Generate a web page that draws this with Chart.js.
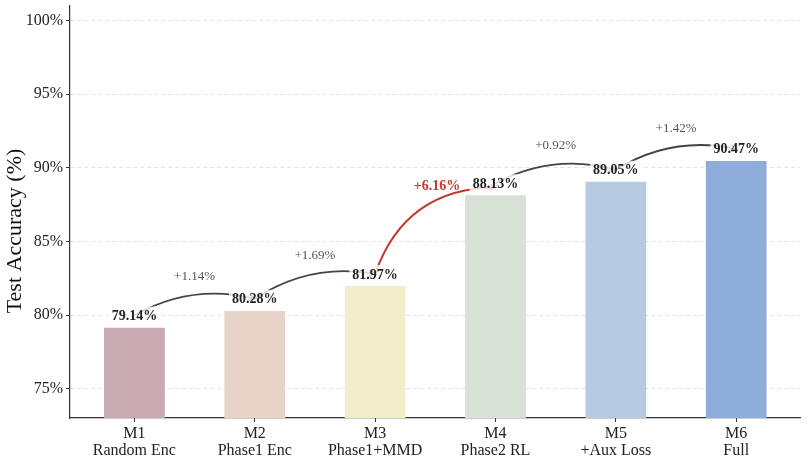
<!DOCTYPE html>
<html><head><meta charset="utf-8">
<script src="https://cdn.jsdelivr.net/npm/chart.js@4/dist/chart.umd.min.js"></script>
<style>html,body{margin:0;padding:0;background:#fff}#wrap{width:808px;height:461px}</style>
</head><body><div id="wrap"><canvas id="c" width="808" height="461"></canvas></div>
<script>
const categories = [["M1","Random Enc"],["M2","Phase1 Enc"],["M3","Phase1+MMD"],["M4","Phase2 RL"],["M5","+Aux Loss"],["M6","Full"]];
const accuracy = [79.14, 80.28, 81.97, 88.13, 89.05, 90.47];
const gainLabels = ["+1.14%", "+1.69%", "+6.16%", "+0.92%", "+1.42%"];
const yTicks = [75, 80, 85, 90, 95, 100];
const yTitle = "Test Accuracy (%)";
const barColors = ["#caaab2", "#e8d3c9", "#f2eecb", "#d7e1d5", "#b5cbe2", "#8fadda"];

const FONT = "'Liberation Serif', 'Times New Roman', serif";
const gains = accuracy.slice(1).map((v, i) => v - accuracy[i]);
const hiIdx = gains.indexOf(Math.max(...gains));

const annot = {
  id: 'annot',
  afterDraw(chart) {
    const {ctx, chartArea} = chart;
    ctx.save();
    ctx.translate(15, chartArea.top + (chartArea.bottom - chartArea.top) / 2 + 19);
    ctx.rotate(-Math.PI / 2);
    ctx.font = `22px ${FONT}`;
    ctx.fillStyle = '#111';
    ctx.textAlign = 'center';
    ctx.textBaseline = 'middle';
    ctx.fillText(yTitle, 0, 0);
    ctx.restore();
  },
  afterDatasetsDraw(chart) {
    const {ctx, scales: {x, y}} = chart;
    const px = v => x.getPixelForValue(v);
    const py = v => y.getPixelForValue(v);
    const LBL = 0.82;
    ctx.save();
    // arcs
    for (let i = 0; i < accuracy.length - 1; i++) {
      const hi = i === hiIdx;
      const ax = px(i), ay = py(accuracy[i] + LBL);
      const bx = px(i + 1), by = py(accuracy[i + 1] + (hi ? 0.55 : LBL));
      const rad = hi ? -0.35 : -0.2;
      const mx = (ax + bx) / 2, my = (ay + by) / 2;
      const dx = bx - ax, dyUp = ay - by;
      const cx = mx + rad * dyUp, cy = my + rad * dx;
      ctx.strokeStyle = hi ? '#c0392b' : '#444';
      ctx.lineWidth = hi ? 2 : 1.8;
      ctx.beginPath();
      ctx.moveTo(ax, ay);
      ctx.quadraticCurveTo(cx, cy, bx, by);
      ctx.stroke();
      let tx = bx - cx, ty = by - cy;
      const L = Math.hypot(tx, ty); tx /= L; ty /= L;
      const hl = 6, hw = 3;
      ctx.beginPath();
      ctx.moveTo(bx - hl * tx - hw * ty, by - hl * ty + hw * tx);
      ctx.lineTo(bx, by);
      ctx.lineTo(bx - hl * tx + hw * ty, by - hl * ty - hw * tx);
      ctx.stroke();
    }
    // value labels with translucent white boxes
    ctx.font = `bold 14px ${FONT}`;
    ctx.textAlign = 'center';
    ctx.textBaseline = 'middle';
    accuracy.forEach((v, i) => {
      const t = v.toFixed(2) + '%';
      const w = ctx.measureText(t).width;
      const lx = px(i), ly = py(v + LBL);
      ctx.fillStyle = 'rgba(255,255,255,0.8)';
      ctx.fillRect(lx - w / 2 - 3, ly - 9, w + 6, 18);
      ctx.fillStyle = '#222';
      ctx.fillText(t, lx, ly + 1);
    });
    // gain labels
    gainLabels.forEach((t, i) => {
      const hi = i === hiIdx;
      const gx = px(i + (hi ? 0.515 : 0.5));
      const gy = hi ? py(accuracy[i + 1] + 0.65) : py((accuracy[i] + accuracy[i + 1]) / 2 + 3.0);
      ctx.font = hi ? `bold 14px ${FONT}` : `13px ${FONT}`;
      ctx.fillStyle = hi ? '#c0392b' : '#555';
      ctx.fillText(t, gx, gy + 1);
    });
    ctx.restore();
  }
};

const zeroPad = s => { s.paddingTop = 0; s.paddingBottom = 0; s.paddingLeft = 0; s.paddingRight = 0; };

new Chart(document.getElementById('c'), {
  type: 'bar',
  data: {
    datasets: [{
      data: accuracy.map((v, i) => ({x: i, y: v})),
      backgroundColor: barColors,
      borderWidth: 0,
      categoryPercentage: 1,
      barPercentage: 0.505
    }]
  },
  options: {
    responsive: false,
    devicePixelRatio: 1,
    animation: false,
    layout: {padding: {top: 6, right: 8, left: 0, bottom: 0}},
    plugins: {legend: {display: false}, tooltip: {enabled: false}},
    scales: {
      x: {
        type: 'linear',
        min: -0.535, max: 5.53,
        offset: false,
        afterBuildTicks: s => { s.ticks = categories.map((c, i) => ({value: i})); },
        afterFit: s => { s.height = 43; zeroPad(s); },
        ticks: {
          autoSkip: false, maxRotation: 0, padding: 3,
          font: {family: FONT, size: 16, lineHeight: 1.07},
          color: '#222',
          callback: v => categories[v]
        },
        grid: {display: true, drawOnChartArea: false, drawTicks: true, tickLength: 4, tickColor: '#333', offset: false},
        border: {display: true, color: '#333', width: 1.2}
      },
      y: {
        min: 73, max: 101,
        afterBuildTicks: s => { s.ticks = yTicks.map(v => ({value: v})); },
        afterFit: s => { s.width = 70; zeroPad(s); },
        ticks: {
          padding: 3,
          font: {family: FONT, size: 16},
          color: '#222',
          callback: v => v + '%'
        },
        grid: {color: '#dddddd', lineWidth: 0.8, tickColor: '#333', tickLength: 4, tickBorderDash: [], tickWidth: 1},
        border: {display: true, color: '#333', width: 1.2, dash: [4, 3]}
      }
    }
  },
  plugins: [annot]
});
</script>
</body></html>
